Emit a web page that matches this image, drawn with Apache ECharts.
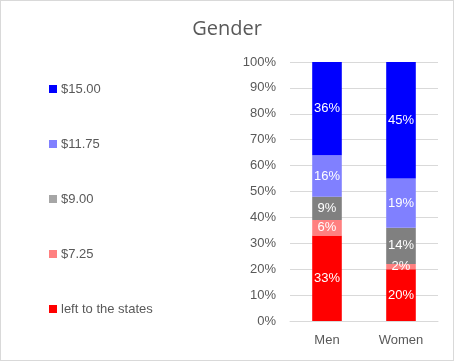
<!DOCTYPE html>
<html><head><meta charset="utf-8">
<script src="https://cdn.jsdelivr.net/npm/echarts@6/dist/echarts.min.js"></script>
<style>
html,body{margin:0;padding:0;background:#fff;}
#c{position:absolute;left:0;top:0;width:452px;height:359px;border:1px solid #d9d9d9;}
</style></head>
<body><div id="c"></div>
<script>
var categories = ['Men', 'Women'];
var seriesNames = ['left to the states', '$7.25', '$9.00', '$11.75', '$15.00'];
var leftToStates = [33, 20];
var v725 = [6, 2];
var v900 = [9, 14];
var v1175 = [16, 19];
var v1500 = [36, 45];
var yTicks = [0, 10, 20, 30, 40, 50, 60, 70, 80, 90, 100];

var colors = ['#FF0000', '#FF8080', '#808080', '#8080FF', '#0000FF'];
var legendColors = ['#FF0000', '#FF8080', '#A6A6A6', '#8080FF', '#0000FF'];
var values = [leftToStates, v725, v900, v1175, v1500];
var font = 'Liberation Sans, Arial, sans-serif';

var chart = echarts.init(document.getElementById('c'));
var series = seriesNames.map(function (n, i) {
  return {
    name: n, type: 'bar', stack: 'total', barWidth: '40%',
    data: values[i],
    itemStyle: { color: colors[i] },
    label: { show: true, position: 'inside', color: '#fff', fontSize: 13, fontFamily: font,
      formatter: function (p) { return p.value + '%'; } }
  };
});
chart.setOption({
  animation: false,
  title: { text: 'Gender', left: 'center', top: 13,
    textStyle: { fontSize: 20, fontWeight: 'normal', color: '#595959', fontFamily: 'Open Sans, sans-serif' } },
  legend: {
    orient: 'vertical', left: 43, top: 76, itemWidth: 8, itemHeight: 8, itemGap: 41,
    icon: 'rect',
    textStyle: { fontSize: 13, color: '#595959', fontFamily: font, lineHeight: 14, padding: [0, 0, 0, -1] },
    data: seriesNames.slice().reverse().map(function (n) {
      return { name: n, itemStyle: { color: legendColors[seriesNames.indexOf(n)] } };
    })
  },
  grid: { left: 289, right: 15, top: 61, bottom: 39, containLabel: false },
  xAxis: {
    type: 'category', data: categories,
    axisLine: { lineStyle: { color: '#d9d9d9' } }, axisTick: { show: false },
    axisLabel: { color: '#595959', fontSize: 13, fontFamily: font, margin: 13 }
  },
  yAxis: {
    type: 'value', min: 0, max: 100, interval: 10,
    axisLabel: { color: '#595959', fontSize: 13, fontFamily: font, margin: 14,
      formatter: function (v) { return v + '%'; } },
    splitLine: { lineStyle: { color: '#d9d9d9' } },
    axisLine: { show: false }, axisTick: { show: false }
  },
  series: series
});
</script></body></html>
